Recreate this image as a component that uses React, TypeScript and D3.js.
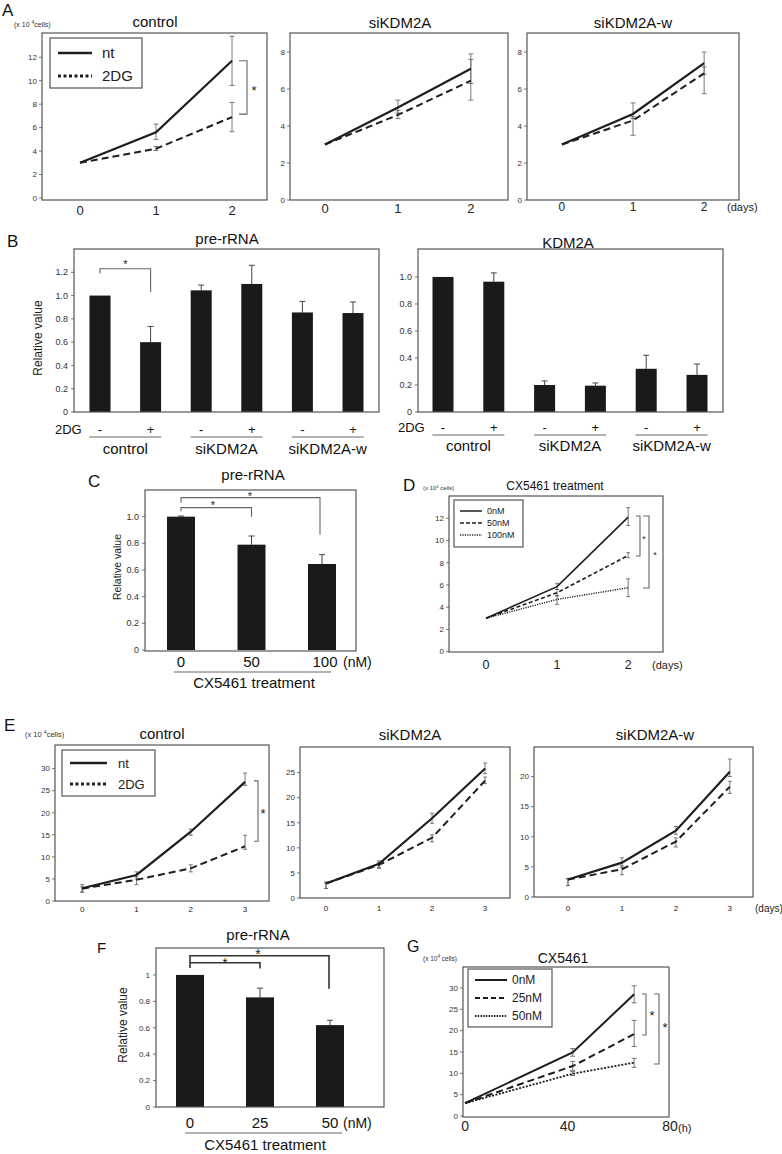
import React from 'react';
import * as d3 from 'd3';

const FONT = "'Liberation Sans', Arial, Helvetica, sans-serif";
const INK = '#1e1e1e';
const FRAME = '#555';
const ERR = '#6a6a6a';

// ---------- Panel A (x10^4 cells, days 0-2) ----------
const daysA = [0, 1, 2];
const aCtrlNt = [3, 5.6, 11.7];
const aCtrlNtLo = [3, 5.0, 9.6];
const aCtrlNtHi = [3, 6.3, 13.8];
const aCtrlDg = [3, 4.2, 6.9];
const aCtrlDgLo = [3, 4.05, 5.65];
const aCtrlDgHi = [3, 4.4, 8.15];
const aSiNt = [3, 5.0, 7.1];
const aSiNtLo = [3, 4.7, 6.3];
const aSiNtHi = [3, 5.4, 7.9];
const aSiDg = [3, 4.6, 6.45];
const aSiDgLo = [3, 4.4, 5.4];
const aSiDgHi = [3, 4.85, 7.6];
const aSiwNt = [3, 4.65, 7.4];
const aSiwNtLo = [3, 4.4, 6.8];
const aSiwNtHi = [3, 5.25, 8.0];
const aSiwDg = [3, 4.3, 6.85];
const aSiwDgLo = [3, 3.5, 5.75];
const aSiwDgHi = [3, 4.5, 7.2];
const aYTicksCtrl = [0, 2, 4, 6, 8, 10, 12];
const aYTicksSi = [0, 2, 4, 6, 8];

// ---------- Panel B ----------
const bDrug = ['-', '+', '-', '+', '-', '+'];
const bGroups = ['control', 'siKDM2A', 'siKDM2A-w'];
const bPre = [1.0, 0.6, 1.045, 1.1, 0.855, 0.85];
const bPreHi = [1.0, 0.735, 1.09, 1.26, 0.95, 0.945];
const bKdm = [1.0, 0.965, 0.2, 0.195, 0.32, 0.275];
const bKdmHi = [1.0, 1.03, 0.23, 0.215, 0.42, 0.355];
const bPreTicks = [0, 0.2, 0.4, 0.6, 0.8, 1.0, 1.2];
const bKdmTicks = [0, 0.2, 0.4, 0.6, 0.8, 1.0];

// ---------- Panel C ----------
const cDose = ['0', '50', '100'];
const cVal = [1.0, 0.79, 0.645];
const cHi = [1.005, 0.855, 0.715];
const cTicks = [0, 0.2, 0.4, 0.6, 0.8, 1.0];

// ---------- Panel D ----------
const daysD = [0, 1, 2];
const d0 = [3, 5.85, 12.1];
const d0Lo = [3, 5.6, 11.35];
const d0Hi = [3, 6.15, 12.95];
const d50 = [3, 5.3, 8.65];
const d50Lo = [3, 5.0, 8.45];
const d50Hi = [3, 5.6, 8.9];
const d100 = [3, 4.7, 5.75];
const d100Lo = [3, 4.25, 4.95];
const d100Hi = [3, 5.05, 6.55];
const dYTicks = [0, 2, 4, 6, 8, 10, 12];

// ---------- Panel E (days 0-3) ----------
const daysE = [0, 1, 2, 3];
const eCtrlNt = [2.9, 5.9, 15.7, 27.0];
const eCtrlNtLo = [2.0, 5.0, 14.9, 26.2];
const eCtrlNtHi = [3.7, 6.6, 16.3, 29.0];
const eCtrlDg = [2.8, 4.8, 7.4, 12.4];
const eCtrlDgLo = [2.0, 3.7, 6.6, 11.7];
const eCtrlDgHi = [3.2, 5.5, 8.2, 14.9];
const eSiNt = [2.9, 6.8, 15.9, 25.8];
const eSiNtLo = [1.9, 6.1, 14.9, 24.8];
const eSiNtHi = [3.2, 7.4, 16.9, 26.9];
const eSiDg = [2.9, 6.6, 12.0, 23.4];
const eSiDgLo = [1.9, 5.9, 11.2, 22.8];
const eSiDgHi = [3.0, 7.1, 12.6, 24.1];
const eSiwNt = [2.9, 5.7, 11.0, 20.8];
const eSiwNtLo = [1.9, 4.9, 10.4, 20.0];
const eSiwNtHi = [3.1, 6.5, 11.7, 22.9];
const eSiwDg = [2.9, 4.6, 9.2, 18.3];
const eSiwDgLo = [1.9, 3.7, 8.3, 17.2];
const eSiwDgHi = [3.0, 5.2, 9.8, 19.2];
const eTicksCtrl = [0, 5, 10, 15, 20, 25, 30];
const eTicksSi = [0, 5, 10, 15, 20, 25];
const eTicksSiw = [0, 5, 10, 15, 20];

// ---------- Panel F ----------
const fDose = ['0', '25', '50'];
const fVal = [1.0, 0.83, 0.62];
const fHi = [1.003, 0.9, 0.657];
const fTicks = [0, 0.2, 0.4, 0.6, 0.8, 1];

// ---------- Panel G (hours) ----------
const hoursG = [0, 42, 66];
const hourTicksG = [0, 40, 80];
const g0 = [3, 14.9, 28.5];
const g0Lo = [3, 14.0, 26.5];
const g0Hi = [3, 15.8, 30.5];
const g25 = [3, 11.7, 19.2];
const g25Lo = [3, 10.7, 16.3];
const g25Hi = [3, 12.8, 22.4];
const g50 = [3, 9.9, 12.5];
const g50Lo = [3, 9.5, 11.4];
const g50Hi = [3, 10.4, 13.5];
const gYTicks = [0, 5, 10, 15, 20, 25, 30];

type Box = { l: number; t: number; r: number; b: number };
type Series = { y: number[]; lo: number[]; hi: number[]; dash?: string; w?: number };
type Lin = d3.ScaleLinear<number, number>;

function LinePanel(p: {
  box: Box;
  xDomain: [number, number];
  yDomain: [number, number];
  xs: number[];
  xTicks: number[];
  xTickY: number;
  xFont: number;
  yTicks: number[];
  yFont: number;
  series: Series[];
  cap?: number;
  extra?: (x: Lin, y: Lin) => React.ReactNode;
}) {
  const { box } = p;
  const x = d3.scaleLinear().domain(p.xDomain).range([box.l, box.r]);
  const y = d3.scaleLinear().domain(p.yDomain).range([box.b, box.t]);
  const line = d3
    .line<number>()
    .x((_, i) => x(p.xs[i]))
    .y((d) => y(d));
  const cap = p.cap ?? 2.5;
  return (
    <g>
      {p.yTicks.map((t) => (
        <g key={t}>
          <line x1={box.l - 3} x2={box.l} y1={y(t)} y2={y(t)} stroke={FRAME} strokeWidth={0.8} />
          <text x={box.l - 5} y={y(t)} dy="0.35em" textAnchor="end" fontSize={p.yFont} fill="#333">
            {t}
          </text>
        </g>
      ))}
      {p.xTicks.map((t) => (
        <text key={t} x={x(t)} y={p.xTickY} textAnchor="middle" fontSize={p.xFont} fill="#222">
          {t}
        </text>
      ))}
      {p.series.map((s, si) => (
        <g key={si} stroke={ERR} strokeWidth={0.9}>
          {p.xs.map((xv, i) =>
            s.hi[i] - s.lo[i] > 0.01 ? (
              <g key={i}>
                <line x1={x(xv)} x2={x(xv)} y1={y(s.lo[i])} y2={y(s.hi[i])} />
                <line x1={x(xv) - cap} x2={x(xv) + cap} y1={y(s.lo[i])} y2={y(s.lo[i])} />
                <line x1={x(xv) - cap} x2={x(xv) + cap} y1={y(s.hi[i])} y2={y(s.hi[i])} />
              </g>
            ) : null
          )}
        </g>
      ))}
      {p.series.map((s, si) => (
        <path
          key={si}
          d={line(s.y) || ''}
          fill="none"
          stroke={INK}
          strokeWidth={s.w ?? 2}
          strokeDasharray={s.dash}
        />
      ))}
      <rect x={box.l} y={box.t} width={box.r - box.l} height={box.b - box.t} fill="none" stroke={FRAME} strokeWidth={1.2} />
      {p.extra && p.extra(x, y)}
    </g>
  );
}

function BarPanel(p: {
  box: Box;
  yDomain: [number, number];
  yTicks: number[];
  fmt: (v: number) => string;
  vals: number[];
  his: number[];
  cRange: [number, number];
  barW: number;
  yFont: number;
  extra?: (x: d3.ScalePoint<number>, y: Lin) => React.ReactNode;
}) {
  const { box } = p;
  const y = d3.scaleLinear().domain(p.yDomain).range([box.b, box.t]);
  const x = d3.scalePoint<number>().domain(d3.range(p.vals.length)).range(p.cRange);
  return (
    <g>
      {p.yTicks.map((t) => (
        <g key={t}>
          <line x1={box.l - 3} x2={box.l} y1={y(t)} y2={y(t)} stroke={FRAME} strokeWidth={0.8} />
          <text x={box.l - 6} y={y(t)} dy="0.35em" textAnchor="end" fontSize={p.yFont} fill="#333">
            {p.fmt(t)}
          </text>
        </g>
      ))}
      {p.vals.map((v, i) => {
        const cx = x(i) as number;
        return (
          <g key={i}>
            {p.his[i] - v > 0.003 ? (
              <g stroke="#444" strokeWidth={1}>
                <line x1={cx} x2={cx} y1={y(v)} y2={y(p.his[i])} />
                <line x1={cx - 3} x2={cx + 3} y1={y(p.his[i])} y2={y(p.his[i])} />
              </g>
            ) : null}
            <rect x={cx - p.barW / 2} y={y(v)} width={p.barW} height={y(0) - y(v)} fill="#1a1a1a" />
          </g>
        );
      })}
      <rect x={box.l} y={box.t} width={box.r - box.l} height={box.b - box.t} fill="none" stroke={FRAME} strokeWidth={1.2} />
      {p.extra && p.extra(x, y)}
    </g>
  );
}

function Legend(p: {
  box: [number, number, number, number];
  lx: [number, number];
  tx: number;
  font: number;
  items: { label: string; y: number; dash?: string; w: number }[];
}) {
  const [x0, y0, x1, y1] = p.box;
  return (
    <g>
      <rect x={x0} y={y0} width={x1 - x0} height={y1 - y0} fill="#fff" stroke={FRAME} strokeWidth={1.2} />
      {p.items.map((it) => (
        <g key={it.label}>
          <line x1={p.lx[0]} x2={p.lx[1]} y1={it.y} y2={it.y} stroke={INK} strokeWidth={it.w} strokeDasharray={it.dash} />
          <text x={p.tx} y={it.y} dy="0.35em" fontSize={p.font} fill="#222">
            {it.label}
          </text>
        </g>
      ))}
    </g>
  );
}

function Star({ x, cy, f }: { x: number; cy: number; f: number }) {
  return (
    <text x={x} y={cy + 0.55 * f} fontSize={f} textAnchor="middle" fill="#222">
      *
    </text>
  );
}

function VBracket({ x, y1, y2, tick, w = 1.1, color = '#666' }: { x: number; y1: number; y2: number; tick: number; w?: number; color?: string }) {
  return <path d={`M${x - tick},${y1}H${x}V${y2}H${x - tick}`} fill="none" stroke={color} strokeWidth={w} />;
}

function Unit({ x, y, f, sep }: { x: number; y: number; f: number; sep: string }) {
  return (
    <text x={x} y={y} fontSize={f} fill="#333">
      {'(x 10' + sep}
      <tspan dy={-f * 0.4} fontSize={f * 0.7}>
        4
      </tspan>
      <tspan dy={f * 0.4}>{(sep ? '' : ' ') + 'cells)'}</tspan>
    </text>
  );
}

function Letter({ x, y, s, f = 17 }: { x: number; y: number; s: string; f?: number }) {
  return (
    <text x={x} y={y} fontSize={f} fill="#111">
      {s}
    </text>
  );
}

function Title({ x, y, s, f = 15 }: { x: number; y: number; s: string; f?: number }) {
  return (
    <text x={x} y={y} fontSize={f} textAnchor="middle" fill="#111">
      {s}
    </text>
  );
}

function RotLabel({ x, y, f }: { x: number; y: number; f: number }) {
  return (
    <text transform={`translate(${x},${y}) rotate(-90)`} textAnchor="middle" dy="0.35em" fontSize={f} fill="#222">
      Relative value
    </text>
  );
}

const fmt1 = (v: number) => (v === 0 ? '0' : v.toFixed(1));
const fmtF = (v: number) => (v === 0 ? '0' : v === 1 ? '1' : v.toFixed(1));

function GroupAxis({
  x,
  dgX,
  dgY,
  lineY,
  labY,
}: {
  x: d3.ScalePoint<number>;
  dgX: number;
  dgY: number;
  lineY: number;
  labY: number;
}) {
  return (
    <g fill="#111">
      <text x={dgX} y={dgY} fontSize={13}>
        2DG
      </text>
      {bDrug.map((d, i) => (
        <text key={i} x={x(i) as number} y={dgY} fontSize={13} textAnchor="middle">
          {d}
        </text>
      ))}
      {bGroups.map((g, gi) => {
        const mid = ((x(gi * 2) as number) + (x(gi * 2 + 1) as number)) / 2;
        return (
          <g key={g}>
            <line x1={mid - 36} x2={mid + 36} y1={lineY} y2={lineY} stroke="#666" strokeWidth={1} />
            <text x={mid} y={labY} fontSize={15} textAnchor="middle">
              {g}
            </text>
          </g>
        );
      })}
    </g>
  );
}

export default function App() {
  const ntW = 2.2;
  const dgDash = '7,4';
  return (
    <svg
      width={782}
      height={1154}
      viewBox="0 0 782 1154"
      style={{ position: 'absolute', left: 0, top: 0, background: '#fff' }}
      fontFamily={FONT}
    >
      <rect x={0} y={0} width={782} height={1154} fill="#fff" />

      {/* ===== A ===== */}
      <Letter x={2} y={16} s="A" />
      <Unit x={14} y={27} f={7} sep=" " />
      <Title x={155} y={27} s="control" />
      <LinePanel
        box={{ l: 42, t: 33, r: 267, b: 200 }}
        xDomain={[-0.5, 2.46]}
        yDomain={[-0.17, 14.07]}
        xs={daysA}
        xTicks={daysA}
        xTickY={215}
        xFont={13}
        yTicks={aYTicksCtrl}
        yFont={8}
        series={[
          { y: aCtrlNt, lo: aCtrlNtLo, hi: aCtrlNtHi, w: ntW },
          { y: aCtrlDg, lo: aCtrlDgLo, hi: aCtrlDgHi, w: 2, dash: dgDash },
        ]}
        extra={(x, y) => {
          const y1 = y(aCtrlNt[2]);
          const y2 = y(aCtrlDg[2]) - 3;
          return (
            <g>
              <VBracket x={247} y1={y1} y2={y2} tick={8} />
              <Star x={254} cy={(y1 + y2) / 2} f={13} />
            </g>
          );
        }}
      />
      <Legend
        box={[50, 38, 142, 88]}
        lx={[58, 92]}
        tx={102}
        font={15}
        items={[
          { label: 'nt', y: 53, w: 2.5 },
          { label: '2DG', y: 76, w: 3, dash: '3,2.5' },
        ]}
      />

      <Title x={400} y={28} s="siKDM2A" />
      <LinePanel
        box={{ l: 290, t: 33, r: 508, b: 200 }}
        xDomain={[-0.48, 2.51]}
        yDomain={[0, 9.03]}
        xs={daysA}
        xTicks={daysA}
        xTickY={213}
        xFont={13}
        yTicks={aYTicksSi}
        yFont={8}
        series={[
          { y: aSiNt, lo: aSiNtLo, hi: aSiNtHi, w: ntW },
          { y: aSiDg, lo: aSiDgLo, hi: aSiDgHi, w: 2, dash: dgDash },
        ]}
      />

      <Title x={633} y={28} s="siKDM2A-w" />
      <LinePanel
        box={{ l: 527, t: 33, r: 739, b: 200 }}
        xDomain={[-0.49, 2.49]}
        yDomain={[0, 9.03]}
        xs={daysA}
        xTicks={daysA}
        xTickY={211}
        xFont={12}
        yTicks={aYTicksSi}
        yFont={8}
        series={[
          { y: aSiwNt, lo: aSiwNtLo, hi: aSiwNtHi, w: ntW },
          { y: aSiwDg, lo: aSiwDgLo, hi: aSiwDgHi, w: 2, dash: dgDash },
        ]}
      />
      <text x={727} y={211} fontSize={11} fill="#222">
        (days)
      </text>

      {/* ===== B ===== */}
      <Letter x={7} y={247} s="B" />
      <Title x={227} y={244} s="pre-rRNA" />
      <RotLabel x={38} y={338} f={12} />
      <BarPanel
        box={{ l: 74, t: 249, r: 379, b: 412 }}
        yDomain={[0, 1.4]}
        yTicks={bPreTicks}
        fmt={fmt1}
        vals={bPre}
        his={bPreHi}
        cRange={[100, 353]}
        barW={21}
        yFont={9}
        extra={(x, y) => {
          const x0 = x(0) as number;
          const x1 = x(1) as number;
          return (
            <g>
              <path
                d={`M${x0},${y(1.19)}V${y(1.23)}H${x1}V${y(1.03)}`}
                fill="none"
                stroke="#666"
                strokeWidth={1.1}
              />
              <Star x={(x0 + x1) / 2} cy={262} f={11} />
              <GroupAxis x={x} dgX={55} dgY={434} lineY={437} labY={454} />
            </g>
          );
        }}
      />

      <Title x={568} y={248} s="KDM2A" />
      <BarPanel
        box={{ l: 418, t: 249, r: 723, b: 412 }}
        yDomain={[0, 1.207]}
        yTicks={bKdmTicks}
        fmt={fmt1}
        vals={bKdm}
        his={bKdmHi}
        cRange={[443, 697]}
        barW={21}
        yFont={9}
        extra={(x) => <GroupAxis x={x} dgX={398} dgY={432} lineY={435} labY={451} />}
      />

      {/* ===== C ===== */}
      <Letter x={88} y={487} s="C" />
      <Title x={253} y={480} s="pre-rRNA" />
      <RotLabel x={117} y={567} f={10.5} />
      <BarPanel
        box={{ l: 145, t: 490, r: 356, b: 651 }}
        yDomain={[-0.0075, 1.2]}
        yTicks={cTicks}
        fmt={fmt1}
        vals={cVal}
        his={cHi}
        cRange={[181, 322]}
        barW={28}
        yFont={9}
        extra={(x, y) => {
          const x0 = x(0) as number;
          const x1 = x(1) as number;
          const x2 = x(2) as number;
          return (
            <g>
              <path d={`M${x0},${y(1.105)}V${y(1.143)}H${x2 - 2}V${y(0.865)}`} fill="none" stroke="#666" strokeWidth={1.1} />
              <path d={`M${x0},${y(1.04)}V${y(1.068)}H${x1}V${y(1.0)}`} fill="none" stroke="#666" strokeWidth={1.1} />
              <Star x={213} cy={503} f={11} />
              <Star x={250} cy={494} f={11} />
              {cDose.map((d, i) => (
                <text key={d} x={(x(i) as number) + (i === 2 ? 3 : 0)} y={667} fontSize={15} textAnchor="middle" fill="#111">
                  {d}
                </text>
              ))}
              <text x={343} y={667} fontSize={14} fill="#111">
                (nM)
              </text>
              <line x1={174} x2={331} y1={672} y2={672} stroke="#666" strokeWidth={1} />
              <text x={254} y={688} fontSize={15} textAnchor="middle" fill="#111">
                CX5461 treatment
              </text>
            </g>
          );
        }}
      />

      {/* ===== D ===== */}
      <Letter x={403} y={491} s="D" />
      <Unit x={423} y={490} f={6} sep="" />
      <Title x={555} y={490} s="CX5461 treatment" f={12} />
      <LinePanel
        box={{ l: 449, t: 496, r: 663, b: 652 }}
        xDomain={[-0.52, 2.49]}
        yDomain={[-0.03, 14]}
        xs={daysD}
        xTicks={daysD}
        xTickY={669}
        xFont={12.5}
        yTicks={dYTicks}
        yFont={8}
        cap={2}
        series={[
          { y: d0, lo: d0Lo, hi: d0Hi, w: 1.6 },
          { y: d50, lo: d50Lo, hi: d50Hi, w: 1.6, dash: '4,2.5' },
          { y: d100, lo: d100Lo, hi: d100Hi, w: 1.4, dash: '1.2,1.2' },
        ]}
        extra={() => (
          <g>
            <VBracket x={640} y1={516} y2={556} tick={4} />
            <VBracket x={649} y1={516} y2={588} tick={6} />
            <Star x={644} cy={537} f={9} />
            <Star x={655} cy={553} f={9} />
          </g>
        )}
      />
      <Legend
        box={[454, 500, 523, 547]}
        lx={[460, 482]}
        tx={487}
        font={9}
        items={[
          { label: '0nM', y: 511, w: 1.5 },
          { label: '50nM', y: 523, w: 1.5, dash: '4,2' },
          { label: '100nM', y: 535, w: 1.3, dash: '1.2,1.2' },
        ]}
      />
      <text x={652} y={669} fontSize={11} fill="#222">
        (days)
      </text>

      {/* ===== E ===== */}
      <Letter x={4} y={731} s="E" />
      <Unit x={25} y={737} f={7.5} sep=" " />
      <Title x={162} y={739} s="control" />
      <LinePanel
        box={{ l: 55, t: 745, r: 269, b: 901 }}
        xDomain={[-0.5, 3.44]}
        yDomain={[0, 35.35]}
        xs={daysE}
        xTicks={daysE}
        xTickY={912}
        xFont={8}
        yTicks={eTicksCtrl}
        yFont={8}
        cap={2}
        series={[
          { y: eCtrlNt, lo: eCtrlNtLo, hi: eCtrlNtHi, w: ntW },
          { y: eCtrlDg, lo: eCtrlDgLo, hi: eCtrlDgHi, w: 2, dash: dgDash },
        ]}
        extra={(x, y) => {
          const y1 = y(eCtrlNt[3]) - 1;
          const y2 = y(eCtrlDg[3]) - 5;
          return (
            <g>
              <VBracket x={258} y1={y1} y2={y2} tick={4} />
              <Star x={263} cy={(y1 + y2) / 2} f={13} />
            </g>
          );
        }}
      />
      <Legend
        box={[62, 750, 155, 796]}
        lx={[70, 107]}
        tx={118}
        font={13}
        items={[
          { label: 'nt', y: 763, w: 2.5 },
          { label: '2DG', y: 784, w: 3, dash: '3,2.5' },
        ]}
      />

      <Title x={410} y={740} s="siKDM2A" />
      <LinePanel
        box={{ l: 300, t: 747, r: 510, b: 898 }}
        xDomain={[-0.49, 3.47]}
        yDomain={[0, 30.1]}
        xs={daysE}
        xTicks={daysE}
        xTickY={911}
        xFont={8}
        yTicks={eTicksSi}
        yFont={8}
        cap={2}
        series={[
          { y: eSiNt, lo: eSiNtLo, hi: eSiNtHi, w: ntW },
          { y: eSiDg, lo: eSiDgLo, hi: eSiDgHi, w: 2, dash: dgDash },
        ]}
      />

      <Title x={655} y={740} s="siKDM2A-w" />
      <LinePanel
        box={{ l: 534, t: 747, r: 753, b: 897 }}
        xDomain={[-0.63, 3.43]}
        yDomain={[0, 24.9]}
        xs={daysE}
        xTicks={daysE}
        xTickY={911}
        xFont={8}
        yTicks={eTicksSiw}
        yFont={8}
        cap={2}
        series={[
          { y: eSiwNt, lo: eSiwNtLo, hi: eSiwNtHi, w: ntW },
          { y: eSiwDg, lo: eSiwDgLo, hi: eSiwDgHi, w: 2, dash: dgDash },
        ]}
      />
      <text x={755} y={912} fontSize={10} fill="#222">
        (days)
      </text>

      {/* ===== F ===== */}
      <Letter x={97} y={953} s="F" f={15} />
      <Title x={258} y={940} s="pre-rRNA" />
      <RotLabel x={123} y={1025} f={12} />
      <BarPanel
        box={{ l: 156, t: 948, r: 384, b: 1107 }}
        yDomain={[0, 1.204]}
        yTicks={fTicks}
        fmt={fmtF}
        vals={fVal}
        his={fHi}
        cRange={[190, 330]}
        barW={28}
        yFont={8}
        extra={(x, y) => {
          const x0 = x(0) as number;
          const x1 = x(1) as number;
          const x2 = x(2) as number;
          return (
            <g>
              <path d={`M${x0},${y(1.053)}V${y(1.145)}H${x2 - 1}V${y(0.895)}`} fill="none" stroke="#333" strokeWidth={1.6} />
              <path d={`M${x0},${y(1.092)}H${x1}V${y(1.048)}`} fill="none" stroke="#333" strokeWidth={1.6} />
              <Star x={225} cy={960} f={14} />
              <Star x={258} cy={951} f={14} />
              {fDose.map((d, i) => (
                <text key={d} x={x(i) as number} y={1128} fontSize={15} textAnchor="middle" fill="#111">
                  {d}
                </text>
              ))}
              <text x={343} y={1128} fontSize={14} fill="#111">
                (nM)
              </text>
              <line x1={185} x2={342} y1={1133} y2={1133} stroke="#666" strokeWidth={1} />
              <text x={265} y={1150} fontSize={15} textAnchor="middle" fill="#111">
                CX5461 treatment
              </text>
            </g>
          );
        }}
      />

      {/* ===== G ===== */}
      <Letter x={407} y={952} s="G" f={16} />
      <Unit x={423} y={961} f={6.5} sep="" />
      <Title x={563} y={963} s="CX5461" f={14} />
      <LinePanel
        box={{ l: 463, t: 967, r: 669, b: 1117 }}
        xDomain={[-0.8, 79.6]}
        yDomain={[-0.23, 34.9]}
        xs={hoursG}
        xTicks={hourTicksG}
        xTickY={1131}
        xFont={14}
        yTicks={gYTicks}
        yFont={8}
        cap={2.5}
        series={[
          { y: g0, lo: g0Lo, hi: g0Hi, w: 2 },
          { y: g25, lo: g25Lo, hi: g25Hi, w: 2, dash: '7,4' },
          { y: g50, lo: g50Lo, hi: g50Hi, w: 1.8, dash: '2,1.5' },
        ]}
        extra={() => (
          <g>
            <VBracket x={646} y1={994} y2={1035} tick={4} />
            <VBracket x={659} y1={994} y2={1064} tick={5} />
            <Star x={652} cy={1013} f={13} />
            <Star x={665} cy={1025} f={13} />
          </g>
        )}
      />
      <Legend
        box={[468, 969, 552, 1027]}
        lx={[475, 507]}
        tx={512}
        font={12}
        items={[
          { label: '0nM', y: 980, w: 2 },
          { label: '25nM', y: 998, w: 2, dash: '5,3' },
          { label: '50nM', y: 1016, w: 1.8, dash: '1.5,1.2' },
        ]}
      />
      <text x={678} y={1132} fontSize={11} fill="#222">
        (h)
      </text>
    </svg>
  );
}
